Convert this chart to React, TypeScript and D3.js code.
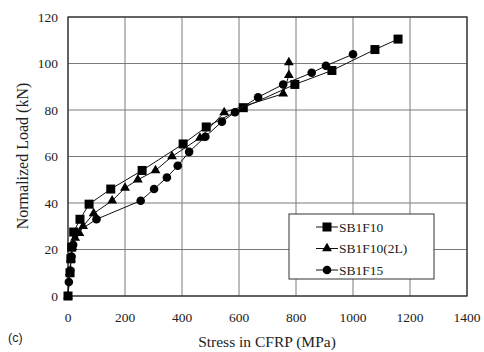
import React from "react";
import * as d3 from "d3";

const sq_x = [0, 7, 10, 13, 20, 42, 74, 150, 260, 404, 485, 615, 796, 926, 1077, 1158];
const sq_y = [0, 10, 16, 21, 27.5, 33, 39.5, 46, 54, 65.4, 72.7, 81, 91, 97, 106, 110.5];

const tri_x = [0, 6, 10, 15, 25, 40, 53, 90, 155, 200, 245, 307, 365, 463, 548, 755, 775, 775];
const tri_y = [0, 10, 16, 21, 25, 27, 30, 35.5, 41, 46.5, 50, 54, 60, 68, 79, 87, 95, 100.5];

const cir_x = [3, 8, 12, 18, 25, 100, 255, 302, 347, 385, 425, 482, 540, 586, 667, 755, 855, 905, 1000];
const cir_y = [6, 11, 17, 22, 27, 33, 41, 46, 51, 56, 62, 68.5, 75, 79, 85.5, 91, 96, 99, 104];

const xTicks = [0, 200, 400, 600, 800, 1000, 1200, 1400];
const yTicks = [0, 20, 40, 60, 80, 100, 120];
const seriesNames = ["SB1F10", "SB1F10(2L)", "SB1F15"];

const W = 484, H = 352;
const L = 68, R = 467, T = 17, B = 296;

export default function App() {
  const x = d3.scaleLinear().domain([0, 1400]).range([L, R]);
  const y = d3.scaleLinear().domain([0, 120]).range([B, T]);
  const line = d3.line<[number, number]>().x(d => x(d[0])).y(d => y(d[1]));
  const zip = (a: number[], b: number[]) => a.map((v, i) => [v, b[i]] as [number, number]);
  const series = [zip(sq_x, sq_y), zip(tri_x, tri_y), zip(cir_x, cir_y)];
  const font = "'Liberation Serif', 'Times New Roman', serif";

  const marker = (k: number, cx: number, cy: number, key: string) => {
    if (k === 0) return <rect key={key} x={cx - 4.5} y={cy - 4.5} width={9} height={9} fill="#000" />;
    if (k === 1) {
      const p = d3.symbol(d3.symbolTriangle, 42)();
      return <path key={key} d={p || ""} transform={`translate(${cx},${cy})`} fill="#000" />;
    }
    return <circle key={key} cx={cx} cy={cy} r={4.3} fill="#000" />;
  };

  return (
    <svg width={W} height={H} style={{ position: "absolute", left: 0, top: 0, background: "#fff" }}>
      <rect x={0} y={0} width={W} height={H} fill="#fff" />
      {yTicks.map(t => (
        <line key={"gy" + t} x1={L} x2={R} y1={y(t)} y2={y(t)} stroke="#7a7a7a" strokeWidth={1} />
      ))}
      {xTicks.map(t => (
        <line key={"gx" + t} x1={x(t)} x2={x(t)} y1={T} y2={B} stroke="#7a7a7a" strokeWidth={1} />
      ))}
      <rect x={L} y={T} width={R - L} height={B - T} fill="none" stroke="#333" strokeWidth={1.3} />
      {yTicks.map(t => (
        <text key={"ty" + t} x={L - 10} y={y(t) + 4.5} textAnchor="end" fontFamily={font} fontSize={13.5} fill="#222">{t}</text>
      ))}
      {xTicks.map(t => (
        <text key={"tx" + t} x={x(t)} y={B + 26} textAnchor="middle" fontFamily={font} fontSize={13.5} fill="#222">{t}</text>
      ))}
      <text x={267} y={347} textAnchor="middle" fontFamily={font} fontSize={15.5} fill="#222">Stress in CFRP (MPa)</text>
      <text transform={`translate(28,${156}) rotate(-90)`} textAnchor="middle" fontFamily={font} fontSize={16} fill="#222">Normalized Load (kN)</text>
      <text x={8} y={342} fontFamily="'Liberation Sans', Arial, sans-serif" fontSize={12.5} fill="#222">(c)</text>
      {series.map((s, k) => (
        <g key={"s" + k}>
          <path d={line(s) || ""} fill="none" stroke="#111" strokeWidth={1} />
          {s.map((d, i) => marker(k, x(d[0]), y(d[1]), `m${k}-${i}`))}
        </g>
      ))}
      <rect x={289} y={214} width={145} height={65} fill="#fff" stroke="#333" strokeWidth={1} />
      {seriesNames.map((n, k) => {
        const yy = 227 + k * 21.5;
        return (
          <g key={"lg" + k}>
            <line x1={316} x2={338} y1={yy} y2={yy} stroke="#111" strokeWidth={1} />
            {marker(k, 327, yy, "lm" + k)}
            <text x={339} y={yy + 4.5} fontFamily={font} fontSize={13.5} fill="#222">{n}</text>
          </g>
        );
      })}
    </svg>
  );
}
